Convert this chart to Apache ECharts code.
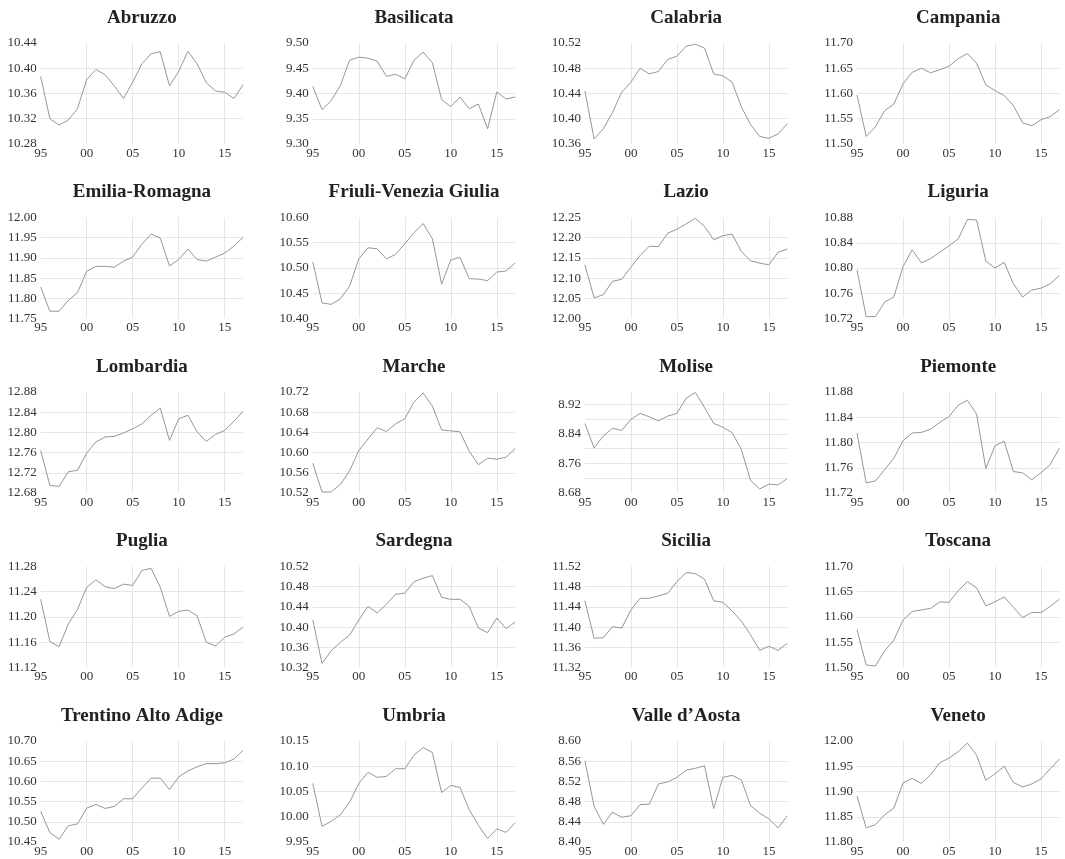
<!DOCTYPE html>
<html>
<head>
<meta charset="utf-8">
<script src="https://cdn.jsdelivr.net/npm/echarts@6/dist/echarts.min.js"></script>
<style>
  html, body { margin: 0; padding: 0; background: #ffffff; }
  #chart { width: 1065px; height: 859px; }
</style>
</head>
<body>
<div id="chart"></div>
<script>
// Years on the horizontal axis
const years = [1995, 1996, 1997, 1998, 1999, 2000, 2001, 2002, 2003, 2004, 2005, 2006,
               2007, 2008, 2009, 2010, 2011, 2012, 2013, 2014, 2015, 2016, 2017];

const regions = ['Abruzzo', 'Basilicata', 'Calabria', 'Campania',
                 'Emilia-Romagna', 'Friuli-Venezia Giulia', 'Lazio', 'Liguria',
                 'Lombardia', 'Marche', 'Molise', 'Piemonte',
                 'Puglia', 'Sardegna', 'Sicilia', 'Toscana',
                 'Trentino Alto Adige', 'Umbria', 'Valle d\u2019Aosta', 'Veneto'];

// Yearly values, one series per region
const abruzzo    = [10.387, 10.320, 10.310, 10.318, 10.336, 10.382, 10.398, 10.390, 10.372, 10.352, 10.378, 10.407, 10.423, 10.426, 10.372, 10.395, 10.427, 10.407, 10.377, 10.364, 10.362, 10.352, 10.374];
const basilicata = [9.414, 9.368, 9.386, 9.416, 9.466, 9.472, 9.470, 9.464, 9.434, 9.438, 9.429, 9.466, 9.482, 9.461, 9.388, 9.374, 9.393, 9.370, 9.379, 9.330, 9.403, 9.389, 9.393];
const calabria   = [10.444, 10.368, 10.384, 10.410, 10.442, 10.458, 10.480, 10.471, 10.475, 10.494, 10.499, 10.515, 10.518, 10.512, 10.471, 10.468, 10.458, 10.419, 10.391, 10.372, 10.369, 10.376, 10.392];
const campania   = [11.597, 11.515, 11.534, 11.566, 11.579, 11.619, 11.642, 11.650, 11.641, 11.647, 11.654, 11.669, 11.679, 11.660, 11.617, 11.606, 11.596, 11.576, 11.542, 11.536, 11.548, 11.554, 11.568];
const emilia     = [11.828, 11.768, 11.768, 11.795, 11.814, 11.867, 11.879, 11.879, 11.877, 11.892, 11.902, 11.934, 11.959, 11.949, 11.880, 11.896, 11.922, 11.896, 11.892, 11.902, 11.912, 11.929, 11.951];
const friuli     = [10.512, 10.431, 10.428, 10.439, 10.464, 10.518, 10.540, 10.538, 10.518, 10.527, 10.548, 10.570, 10.588, 10.558, 10.468, 10.516, 10.521, 10.479, 10.478, 10.475, 10.492, 10.494, 10.510];
const lazio      = [12.133, 12.051, 12.059, 12.092, 12.097, 12.127, 12.156, 12.179, 12.178, 12.211, 12.221, 12.234, 12.248, 12.228, 12.195, 12.205, 12.209, 12.166, 12.143, 12.137, 12.133, 12.164, 12.172];
const liguria    = [10.797, 10.723, 10.723, 10.746, 10.754, 10.802, 10.829, 10.808, 10.815, 10.825, 10.835, 10.846, 10.877, 10.876, 10.811, 10.800, 10.809, 10.775, 10.754, 10.765, 10.768, 10.775, 10.788];
const lombardia  = [12.764, 12.695, 12.693, 12.722, 12.725, 12.759, 12.781, 12.791, 12.792, 12.799, 12.807, 12.817, 12.834, 12.848, 12.784, 12.827, 12.834, 12.801, 12.782, 12.796, 12.804, 12.822, 12.842];
const marche     = [10.579, 10.522, 10.522, 10.537, 10.564, 10.604, 10.627, 10.649, 10.642, 10.657, 10.667, 10.700, 10.718, 10.692, 10.645, 10.643, 10.641, 10.603, 10.576, 10.589, 10.587, 10.591, 10.608];
const molise     = [8.868, 8.802, 8.834, 8.855, 8.849, 8.879, 8.895, 8.886, 8.875, 8.888, 8.895, 8.936, 8.952, 8.911, 8.868, 8.858, 8.843, 8.798, 8.714, 8.691, 8.704, 8.702, 8.719];
const piemonte   = [11.815, 11.736, 11.739, 11.757, 11.775, 11.803, 11.815, 11.816, 11.821, 11.832, 11.841, 11.859, 11.867, 11.845, 11.759, 11.795, 11.802, 11.754, 11.752, 11.741, 11.752, 11.765, 11.791];
const puglia     = [11.228, 11.161, 11.153, 11.189, 11.212, 11.247, 11.259, 11.248, 11.245, 11.252, 11.250, 11.274, 11.277, 11.247, 11.201, 11.209, 11.211, 11.202, 11.160, 11.154, 11.168, 11.173, 11.184];
const sardegna   = [10.414, 10.328, 10.353, 10.370, 10.384, 10.414, 10.441, 10.428, 10.445, 10.465, 10.467, 10.490, 10.497, 10.502, 10.459, 10.455, 10.455, 10.441, 10.398, 10.389, 10.418, 10.397, 10.410];
const sicilia    = [11.452, 11.378, 11.379, 11.401, 11.398, 11.434, 11.457, 11.457, 11.462, 11.467, 11.490, 11.508, 11.506, 11.495, 11.452, 11.449, 11.432, 11.412, 11.385, 11.354, 11.362, 11.354, 11.368];
const toscana    = [11.575, 11.505, 11.503, 11.533, 11.554, 11.594, 11.611, 11.614, 11.617, 11.630, 11.629, 11.652, 11.670, 11.658, 11.622, 11.630, 11.640, 11.619, 11.599, 11.609, 11.609, 11.621, 11.635];
const trentino   = [10.526, 10.473, 10.457, 10.490, 10.495, 10.534, 10.543, 10.533, 10.538, 10.557, 10.557, 10.584, 10.608, 10.608, 10.580, 10.611, 10.626, 10.636, 10.644, 10.644, 10.646, 10.655, 10.677];
const umbria     = [10.066, 9.981, 9.991, 10.004, 10.029, 10.066, 10.088, 10.078, 10.080, 10.095, 10.095, 10.122, 10.137, 10.127, 10.048, 10.062, 10.058, 10.014, 9.983, 9.957, 9.976, 9.969, 9.988];
const valle      = [8.561, 8.471, 8.435, 8.459, 8.449, 8.452, 8.474, 8.475, 8.515, 8.519, 8.528, 8.542, 8.546, 8.551, 8.466, 8.528, 8.532, 8.523, 8.472, 8.457, 8.446, 8.428, 8.452];
const veneto     = [11.891, 11.828, 11.834, 11.854, 11.867, 11.917, 11.926, 11.916, 11.933, 11.957, 11.966, 11.979, 11.996, 11.972, 11.922, 11.935, 11.950, 11.918, 11.909, 11.915, 11.925, 11.945, 11.964];

const seriesValues = [abruzzo, basilicata, calabria, campania,
                      emilia, friuli, lazio, liguria,
                      lombardia, marche, molise, piemonte,
                      puglia, sardegna, sicilia, toscana,
                      trentino, umbria, valle, veneto];

// Vertical scale of each panel: range, grid spacing and label spacing
const yMin       = [10.28, 9.30, 10.36, 11.50, 11.75, 10.40, 12.00, 10.72, 12.68, 10.52, 8.68, 11.72, 11.12, 10.32, 11.32, 11.50, 10.45, 9.95, 8.40, 11.80];
const yMax       = [10.44, 9.50, 10.52, 11.70, 12.00, 10.60, 12.25, 10.88, 12.88, 10.72, 8.953, 11.88, 11.28, 10.52, 11.52, 11.70, 10.70, 10.15, 8.60, 12.00];
const yStep      = [0.04, 0.05, 0.04, 0.05, 0.05, 0.05, 0.05, 0.04, 0.04, 0.04, 0.04, 0.04, 0.04, 0.04, 0.04, 0.05, 0.05, 0.05, 0.04, 0.05];
const yLabelStep = [0.04, 0.05, 0.04, 0.05, 0.05, 0.05, 0.05, 0.04, 0.04, 0.04, 0.08, 0.04, 0.04, 0.04, 0.04, 0.05, 0.05, 0.05, 0.04, 0.05];

// Panel geometry (pixels)
const COL_LEFT = [40.7, 312.8, 584.9, 857.0];
const ROW_TOP = [43, 217.5, 392, 566.5, 741];
const PLOT_W = 202.4;
const PLOT_H = 101;

const SERIF = '"Liberation Serif", "Times New Roman", Times, serif';
const GRID_COLOR = '#e6e6e6';
const LABEL_COLOR = '#333333';

const grids = [], xAxes = [], yAxes = [], series = [], texts = [];

regions.forEach((name, i) => {
  const col = i % 4, row = Math.floor(i / 4);
  const left = COL_LEFT[col], top = ROW_TOP[row];
  grids.push({ left: left, top: top, width: PLOT_W, height: PLOT_H, containLabel: false });

  xAxes.push({
    type: 'value', gridIndex: i, min: 1995, max: 2017, interval: 5,
    axisLine: { show: false }, axisTick: { show: false },
    axisLabel: {
      margin: 3, fontFamily: SERIF, fontSize: 13, color: LABEL_COLOR,
      showMaxLabel: false,
      formatter: v => (v === 2017 ? '' : String(v).slice(2))
    },
    splitLine: { show: true, showMinLine: false, showMaxLine: false,
                 lineStyle: { color: GRID_COLOR, width: 1 } }
  });

  const lo = yMin[i], hi = yMax[i], lstep = yLabelStep[i];
  yAxes.push({
    type: 'value', gridIndex: i, min: lo, max: hi, interval: yStep[i],
    axisLine: { show: false }, axisTick: { show: false },
    axisLabel: {
      margin: 4, fontFamily: SERIF, fontSize: 13, color: LABEL_COLOR,
      showMinLabel: true, showMaxLabel: true,
      formatter: v => {
        const k = (v - lo) / lstep;
        if (Math.abs(k - Math.round(k)) > 1e-6) return '';
        if (v > hi - 1e-9 && Math.abs(((hi - lo) / lstep) - Math.round((hi - lo) / lstep)) > 1e-6) return '';
        return v.toFixed(2);
      }
    },
    splitLine: { show: true, showMinLine: false, showMaxLine: false,
                 lineStyle: { color: GRID_COLOR, width: 1 } }
  });

  const vals = seriesValues[i];
  series.push({
    type: 'line', name: name, xAxisIndex: i, yAxisIndex: i,
    data: years.map((yr, k) => [yr, vals[k]]),
    showSymbol: false, symbol: 'none', silent: true,
    lineStyle: { color: '#969696', width: 1 }
  });

  texts.push({
    type: 'text', x: left + PLOT_W / 2, y: top - 25, silent: true,
    style: {
      text: name, fill: '#222222',
      font: 'bold 19px ' + SERIF,
      align: 'center', verticalAlign: 'middle',
      textAlign: 'center', textVerticalAlign: 'middle'
    }
  });
});

const chart = echarts.init(document.getElementById('chart'), null, { renderer: 'canvas' });
chart.setOption({
  animation: false,
  backgroundColor: '#ffffff',
  grid: grids,
  xAxis: xAxes,
  yAxis: yAxes,
  series: series,
  graphic: texts
});
</script>
</body>
</html>
